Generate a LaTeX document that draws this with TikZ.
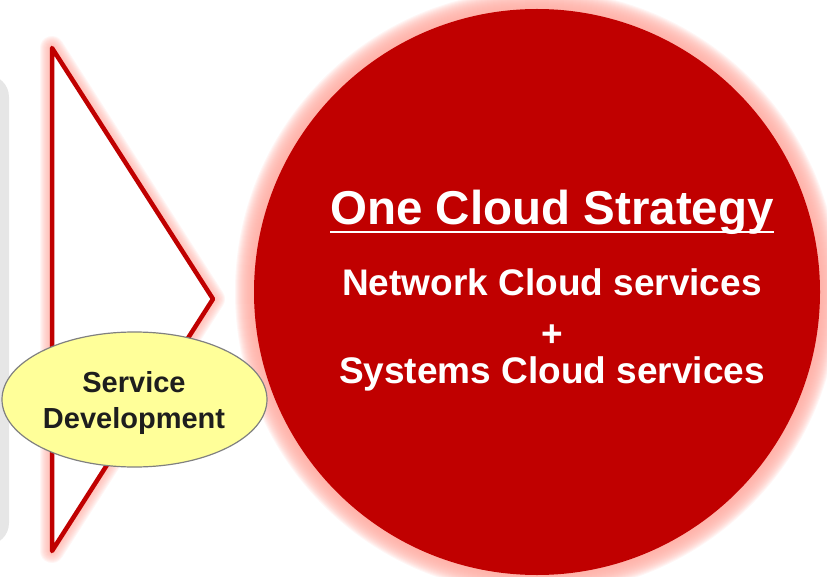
\documentclass[tikz,border=0pt]{standalone}
\usepackage{fontspec}
\setmainfont{Liberation Sans}
\usetikzlibrary{shapes.geometric}
\definecolor{cred}{RGB}{192,0,0}
\definecolor{glowc}{RGB}{255,170,160}
\definecolor{greybox}{RGB}{230,230,230}
\definecolor{ellfill}{RGB}{255,255,153}
\definecolor{ellline}{RGB}{128,128,128}
\definecolor{txtdark}{RGB}{30,30,30}
\tikzset{
  glowline/.style={glowc, opacity=0.11, line join=round},
  bigtext/.style={text=white, font=\fontsize{37}{40}\selectfont\bfseries, inner sep=0pt, anchor=base},
  titletext/.style={text=white, font=\fontsize{47.5}{50}\selectfont\bfseries, inner sep=0pt, anchor=base},
  ellipsebox/.style={ellipse, draw=ellline, line width=1.2pt, fill=ellfill, inner sep=0pt},
  smalltext/.style={text=txtdark, font=\fontsize{29}{36}\selectfont\bfseries, align=center, inner sep=0pt}
}
\begin{document}
\begin{tikzpicture}[x=1pt,y=-1pt]
\useasboundingbox (0,0) rectangle (827,577);
\clip (0,0) rectangle (827,577);
% grey panel at the left edge
\fill[greybox, rounded corners=22pt] (-40,75) rectangle (9,545);
% glows
\foreach \w in {2,4,...,24}
  \draw[glowline, line width=\w pt] (52,48) -- (213,299) -- (52,551) -- cycle;
\foreach \w in {2,4,...,38}
  \draw[glowline, line width=\w pt] (537,292) circle (283);
% triangle
\fill[white] (52,48) -- (213,299) -- (52,551) -- cycle;
\draw[cred, line width=4.5pt, line join=round] (52,48) -- (213,299) -- (52,551) -- cycle;
% red circle
\node[circle, fill=cred, minimum size=566pt, inner sep=0pt] (cloud) at (537,292) {};
\node[titletext] (title) at (552,225) {One Cloud Strategy};
\draw[white, line width=2.6pt] ([yshift=-7pt]title.base west) -- ([yshift=-7pt]title.base east);
\node[bigtext] (net) at (552,295) {Network Cloud services};
\node[bigtext] (plus) at (552,346) {+};
\node[bigtext] (sys) at (552,383) {Systems Cloud services};
% ellipse
\node[ellipsebox, minimum width=265pt, minimum height=135pt] (sd) at (134.5,399.5) {};
\node[smalltext] (sdtext) at (134,403) {Service\\Development};
\end{tikzpicture}
\end{document}
